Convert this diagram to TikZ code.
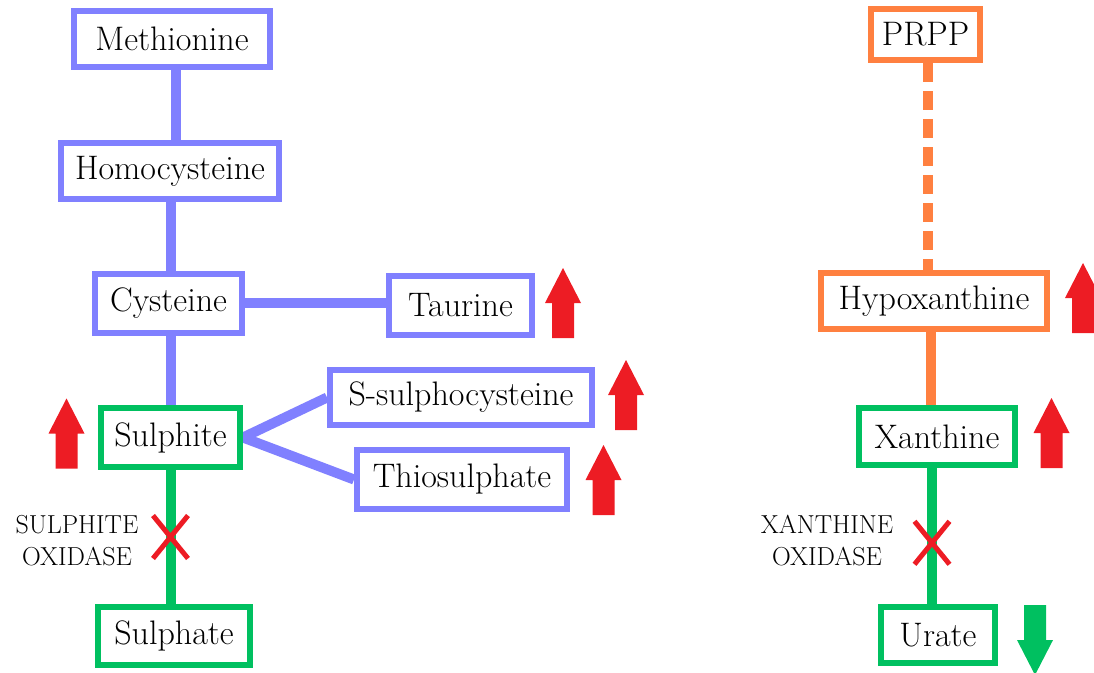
\documentclass[tikz,border=0pt]{standalone}
\usetikzlibrary{backgrounds,shapes.misc}
\definecolor{sulfblue}{HTML}{8080FF}
\definecolor{okgreen}{HTML}{00C060}
\definecolor{purorange}{HTML}{FF8040}
\definecolor{upred}{HTML}{ED1C24}
\begin{document}
\begin{tikzpicture}[x=1pt,y=-1pt,
  box/.style={draw,line width=6pt,fill=white,inner sep=0pt,font=\fontsize{34}{40}\selectfont},
  link/.style={line width=10pt},
  blocked/.style={cross out,draw=upred,line width=5pt,minimum width=30pt,minimum height=38pt,inner sep=0pt},
  enzyme/.style={align=center,font=\fontsize{26}{32}\selectfont},
  blockarrow/.pic={\fill[pic actions] (0,-35) -- (18,0) -- (11,0) -- (11,35) -- (-11,35) -- (-11,0) -- (-18,0) -- cycle;}]
\useasboundingbox (0,0) rectangle (1094,672);
\clip (0,0) rectangle (1094,672);
% sulphur amino acids
\node[box,draw=sulfblue,minimum width=196,minimum height=56] (met) at (172,39) {Methionine};
\node[box,draw=sulfblue,minimum width=218,minimum height=56] (hom) at (170,171) {Homocysteine};
\node[box,draw=sulfblue,minimum width=147,minimum height=59] (cys) at (168.5,303) {Cysteine};
\node[box,draw=sulfblue,minimum width=143,minimum height=59] (tau) at (460.5,305) {Taurine};
\node[box,draw=sulfblue,minimum width=262,minimum height=55] (ssc) at (461,397.5) {S-sulphocysteine};
\node[box,draw=sulfblue,minimum width=210,minimum height=59] (thi) at (462,479.5) {Thiosulphate};
\node[box,draw=okgreen,minimum width=139,minimum height=59] (sul) at (170.5,437.5) {Sulphite};
\node[box,draw=okgreen,minimum width=152,minimum height=58] (sph) at (174,636) {Sulphate};
% purines
\node[box,draw=purorange,minimum width=109,minimum height=51] (prp) at (925.5,34.5) {PRPP};
\node[box,draw=purorange,minimum width=226,minimum height=56] (hyp) at (934,301) {Hypoxanthine};
\node[box,draw=okgreen,minimum width=156,minimum height=57] (xan) at (937,436.5) {Xanthine};
\node[box,draw=okgreen,minimum width=114,minimum height=56] (ura) at (938,635) {Urate};
\begin{scope}[on background layer]
\draw[link,sulfblue] (176,0 |- met.south) -- (176,0 |- hom.north);
\draw[link,sulfblue] (hom.south -| sul) -- (cys.north -| sul);
\draw[link,sulfblue] (cys.south -| sul) -- (sul);
\draw[link,sulfblue] (cys) -- (cys -| tau.west);
\draw[link,sulfblue] (sul.east) -- (ssc.west);
\draw[link,sulfblue] (sul.east) -- (thi.west);
\draw[link,okgreen] (sul) -- node[blocked] (sulX) {} (sul |- sph.north);
\draw[link,purorange,dash pattern=on 19pt off 9pt] (928,0 |- prp.south) -- (928,0 |- hyp.north);
\draw[link,purorange] (931,0 |- hyp.south) -- (931,0 |- xan.north);
\draw[link,okgreen] (932,0 |- xan.south) -- node[blocked,pos=0.55] (xanX) {} (932,0 |- ura.north);
\end{scope}
\node[enzyme] (sulox) at (77,541) {SULPHITE\\OXIDASE};
\node[enzyme] (xanox) at (827,541) {XANTHINE\\OXIDASE};
% level changes
\pic[fill=upred] (upTau) at (563,303) {blockarrow};
\pic[fill=upred] (upSsc) at (626,395) {blockarrow};
\pic[fill=upred] (upThi) at (603.5,480) {blockarrow};
\pic[fill=upred] (upSul) at (66.5,433.5) {blockarrow};
\pic[fill=upred] (upHyp) at (1083,298) {blockarrow};
\pic[fill=upred] (upXan) at (1051.5,433) {blockarrow};
\pic[fill=okgreen,rotate=180] (downUra) at (1035,640) {blockarrow};
\end{tikzpicture}
\end{document}
